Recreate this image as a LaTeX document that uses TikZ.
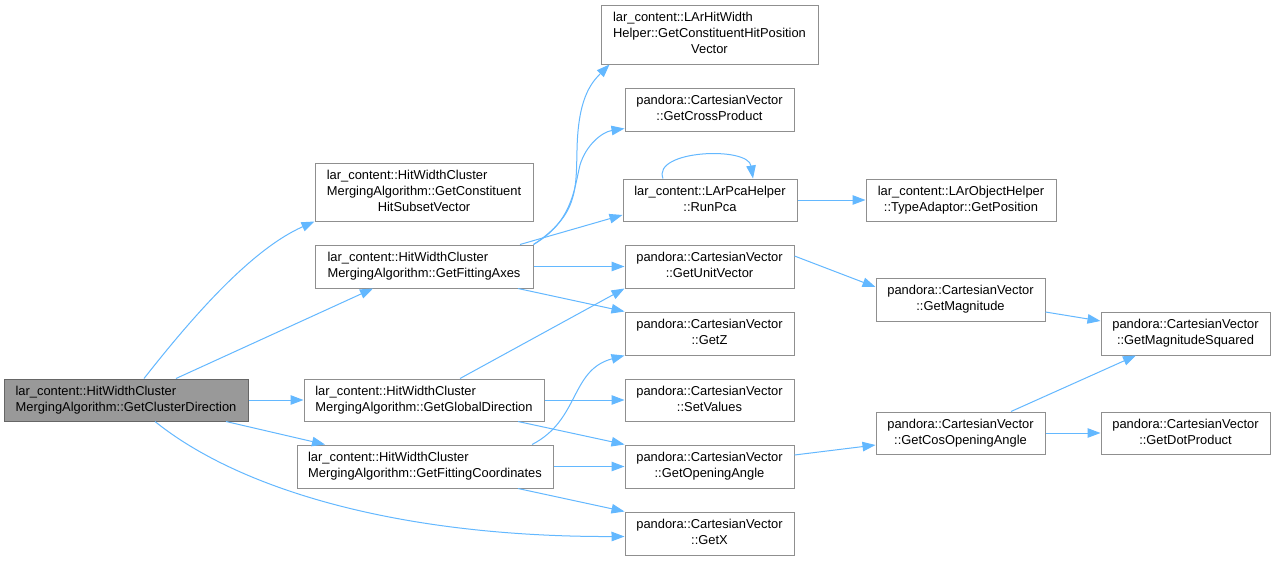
\documentclass[tikz,border=0pt]{standalone}
\usepackage{fontspec}
\setmainfont{Liberation Sans}
\usetikzlibrary{arrows.meta,calc}
\newcommand\lastln[1]{\multicolumn{1}{@{}c@{}}{#1}}
\newcommand\lcont{lar\_content::HitWidthCluster}
\definecolor{edgeblue}{HTML}{63B8FF}
\definecolor{boxline}{HTML}{8F8F8F}
\definecolor{mainfill}{HTML}{999999}
\definecolor{mainline}{HTML}{666666}
\tikzset{
  fnbox/.style={draw=boxline, fill=white, line width=1pt, rectangle, inner sep=0pt,
    font=\fontsize{12.9}{16}\selectfont},
  mainbox/.style={fnbox, fill=mainfill, draw=mainline},
  call/.style={draw=edgeblue, line width=1pt, -{Triangle[length=13pt,width=9.5pt]}},
}
\begin{document}
\begin{tikzpicture}[x=1pt,y=-1pt]
\useasboundingbox[fill=white] (0,0) rectangle (1275,560);

% nodes
\node[mainbox, minimum width=244pt, minimum height=42pt] (main) at (126,400)
  {\begin{tabular}{@{}l@{}}\lcont\\\lastln{MergingAlgorithm::GetClusterDirection}\end{tabular}};
\node[fnbox, minimum width=218pt, minimum height=58pt] (chs) at (424,192)
  {\begin{tabular}{@{}l@{}}\lcont\\MergingAlgorithm::GetConstituent\\\lastln{HitSubsetVector}\end{tabular}};
\node[fnbox, minimum width=218pt, minimum height=43pt] (fax) at (424,266.5)
  {\begin{tabular}{@{}l@{}}\lcont\\\lastln{MergingAlgorithm::GetFittingAxes}\end{tabular}};
\node[fnbox, minimum width=240pt, minimum height=42pt] (gdir) at (424,400)
  {\begin{tabular}{@{}l@{}}\lcont\\\lastln{MergingAlgorithm::GetGlobalDirection}\end{tabular}};
\node[fnbox, minimum width=256pt, minimum height=43pt] (fco) at (425,466.5)
  {\begin{tabular}{@{}l@{}}\lcont\\\lastln{MergingAlgorithm::GetFittingCoordinates}\end{tabular}};

\node[fnbox, minimum width=217pt, minimum height=59pt] (lhw) at (709.5,34.5)
  {\begin{tabular}{@{}l@{}}lar\_content::LArHitWidth\\Helper::GetConstituentHitPosition\\\lastln{Vector}\end{tabular}};
\node[fnbox, minimum width=169pt, minimum height=43pt] (cross) at (709.5,109.5)
  {\begin{tabular}{@{}l@{}}pandora::CartesianVector\\\lastln{::GetCrossProduct}\end{tabular}};
\node[fnbox, minimum width=174pt, minimum height=42pt] (runpca) at (710,200)
  {\begin{tabular}{@{}l@{}}lar\_content::LArPcaHelper\\\lastln{::RunPca}\end{tabular}};
\node[fnbox, minimum width=190pt, minimum height=42pt] (typead) at (961,200)
  {\begin{tabular}{@{}l@{}}lar\_content::LArObjectHelper\\\lastln{::TypeAdaptor::GetPosition}\end{tabular}};
\node[fnbox, minimum width=169pt, minimum height=43pt] (unit) at (709.5,266.5)
  {\begin{tabular}{@{}l@{}}pandora::CartesianVector\\\lastln{::GetUnitVector}\end{tabular}};
\node[fnbox, minimum width=169pt, minimum height=43pt] (getz) at (709.5,333.5)
  {\begin{tabular}{@{}l@{}}pandora::CartesianVector\\\lastln{::GetZ}\end{tabular}};
\node[fnbox, minimum width=169pt, minimum height=42pt] (setval) at (709.5,400)
  {\begin{tabular}{@{}l@{}}pandora::CartesianVector\\\lastln{::SetValues}\end{tabular}};
\node[fnbox, minimum width=169pt, minimum height=43pt] (opang) at (709.5,466.5)
  {\begin{tabular}{@{}l@{}}pandora::CartesianVector\\\lastln{::GetOpeningAngle}\end{tabular}};
\node[fnbox, minimum width=169pt, minimum height=43pt] (getx) at (709.5,533.5)
  {\begin{tabular}{@{}l@{}}pandora::CartesianVector\\\lastln{::GetX}\end{tabular}};

\node[fnbox, minimum width=169pt, minimum height=43pt] (mag) at (960.5,299.5)
  {\begin{tabular}{@{}l@{}}pandora::CartesianVector\\\lastln{::GetMagnitude}\end{tabular}};
\node[fnbox, minimum width=169pt, minimum height=42pt] (cosang) at (960.5,433)
  {\begin{tabular}{@{}l@{}}pandora::CartesianVector\\\lastln{::GetCosOpeningAngle}\end{tabular}};
\node[fnbox, minimum width=169pt, minimum height=43pt] (magsq) at (1185.5,333.5)
  {\begin{tabular}{@{}l@{}}pandora::CartesianVector\\\lastln{::GetMagnitudeSquared}\end{tabular}};
\node[fnbox, minimum width=169pt, minimum height=42pt] (dot) at (1185.5,433)
  {\begin{tabular}{@{}l@{}}pandora::CartesianVector\\\lastln{::GetDotProduct}\end{tabular}};

% edges from main
\draw[call] ([xshift=18pt]main.north) .. controls (190,320) and (250,250) .. (chs.south west);
\draw[call] ([xshift=50pt]main.north) -- ([xshift=-51pt]fax.south);
\draw[call] (main.east) -- (gdir.west);
\draw[call] ([xshift=100pt]main.south) -- ([xshift=-100pt]fco.north);
\draw[call] ([xshift=29pt]main.south) .. controls (240,490) and (400,537) .. ([yshift=-3pt]getx.west);

% edges from GetFittingAxes
\draw[call] (fax.north east) .. controls (578,215) and (576,190) .. (577,150)
  .. controls (578,100) and (590,84) .. ([xshift=9pt]lhw.south west);
\draw[call] (fax.north east) .. controls (572,222) and (574,190) .. (580,165)
  .. controls (586,145) and (602,132) .. ([yshift=3pt]cross.south west);
\draw[call] ([xshift=96pt]fax.north) -- ([yshift=-15pt]runpca.west);
\draw[call] (fax.east) -- (unit.west);
\draw[call] ([xshift=94pt]fax.south) -- (getz.north west);

% RunPca
\draw[call] ([xshift=-47pt]runpca.north) .. controls (652,150) and (748,146) .. ([xshift=43pt]runpca.north);
\draw[call] (runpca.east) -- (typead.west);

% GetUnitVector, GetMagnitude
\draw[call] ([yshift=10.5pt]unit.east) -- ([yshift=12.5pt]mag.west);
\draw[call] ([yshift=-12.5pt]mag.east) -- ([yshift=12.5pt]magsq.west);

% GetGlobalDirection
\draw[call] ([xshift=36pt]gdir.north) -- (unit.south west);
\draw[call] (gdir.east) -- (setval.west);
\draw[call] ([xshift=94pt]gdir.south) -- (opang.north west);

% GetFittingCoordinates
\draw[call] ([xshift=107pt]fco.north) .. controls (580,420) and (570,370) .. (getz.south west);
\draw[call] (fco.east) -- (opang.west);
\draw[call] ([xshift=93pt]fco.south) -- (getx.north west);

% GetOpeningAngle, GetCosOpeningAngle
\draw[call] ([yshift=11.5pt]opang.east) -- ([yshift=-12pt]cosang.west);
\draw[call] ([xshift=50.5pt]cosang.north) -- ([xshift=-49.5pt]magsq.south);
\draw[call] (cosang.east) -- (dot.west);
\end{tikzpicture}
\end{document}
